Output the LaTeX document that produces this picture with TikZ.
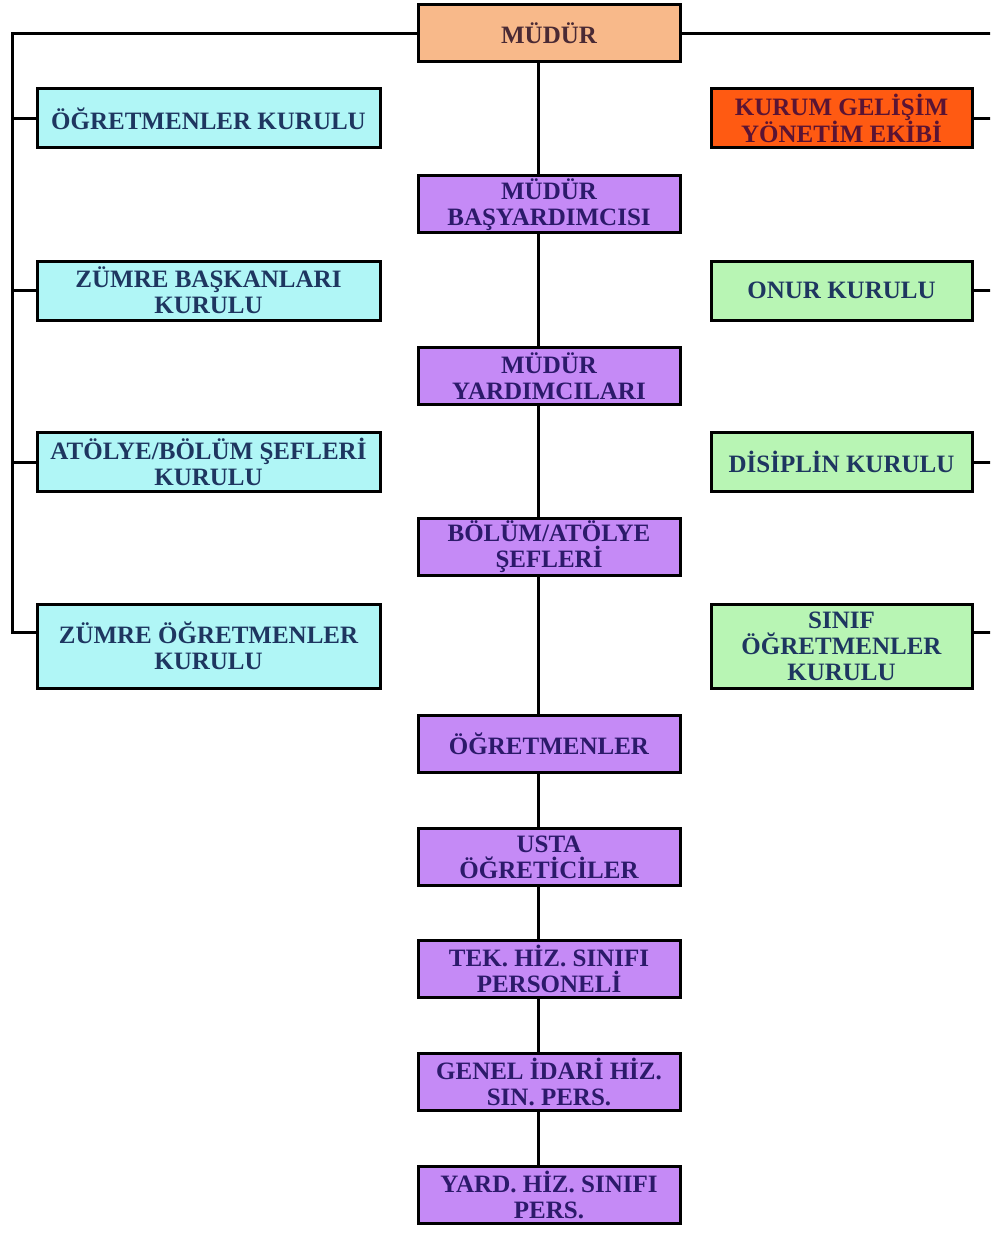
\documentclass[tikz,border=0pt]{standalone}
\usepackage{fontspec}
\setmainfont{Liberation Serif}
\definecolor{peach}{HTML}{F8B98A}
\definecolor{cyanbox}{HTML}{B0F6F6}
\definecolor{purplebox}{HTML}{C58AF6}
\definecolor{greenbox}{HTML}{B8F5B4}
\definecolor{redbox}{HTML}{FF5A12}
\definecolor{navytext}{HTML}{1E3660}
\definecolor{indigotext}{HTML}{2C1A6A}
\definecolor{browntext}{HTML}{4A2A34}
\definecolor{maroontext}{HTML}{5A1434}
\begin{document}
\begin{tikzpicture}[x=1pt,y=-1pt,
  orgbox/.style={draw=black, line width=3pt, rectangle, inner sep=0pt, align=center,
    font=\fontsize{25}{26}\selectfont\bfseries},
  topbox/.style={orgbox, fill=peach, text=browntext, minimum width=262pt, minimum height=57pt},
  midbox/.style={orgbox, fill=purplebox, text=indigotext, minimum width=262pt, minimum height=57pt},
  leftbox/.style={orgbox, fill=cyanbox, text=navytext, minimum width=343pt, minimum height=59pt},
  rightbox/.style={orgbox, fill=greenbox, text=navytext, minimum width=261pt, minimum height=59pt},
  redbx/.style={orgbox, fill=redbox, text=maroontext, minimum width=261pt, minimum height=59pt},
  link/.style={draw=black, line width=3pt}]
\useasboundingbox (0,0) rectangle (990,1233);
\fill[white] (0,0) rectangle (990,1233);
\clip (0,0) rectangle (990,1233);

% centre column
\node[topbox] (mudur) at (549,33.5) {MÜDÜR};
\node[midbox] (c1) at (549,204.5) {MÜDÜR\\BAŞYARDIMCISI};
\node[midbox] (c2) at (549,376) {MÜDÜR\\YARDIMCILARI};
\node[midbox] (c3) at (549,547) {BÖLÜM/ATÖLYE\\ŞEFLERİ};
\node[midbox] (c4) at (549,744) {ÖĞRETMENLER};
\node[midbox] (c5) at (549,857) {USTA\\ÖĞRETİCİLER};
\node[midbox] (c6) at (549,969) {TEK. HİZ. SINIFI\\PERSONELİ};
\node[midbox] (c7) at (549,1082) {GENEL İDARİ HİZ.\\SIN. PERS.};
\node[midbox] (c8) at (549,1194.5) {YARD. HİZ. SINIFI\\PERS.};

% left column
\node[leftbox] (l1) at (208.5,118.5) {ÖĞRETMENLER KURULU};
\node[leftbox] (l2) at (208.5,290.5) {ZÜMRE BAŞKANLARI\\KURULU};
\node[leftbox] (l3) at (208.5,462) {ATÖLYE/BÖLÜM ŞEFLERİ\\KURULU};
\node[leftbox, minimum height=84pt] (l4) at (208.5,646) {ZÜMRE ÖĞRETMENLER\\KURULU};

% right column
\node[redbx] (r1) at (841.5,118.5) {KURUM GELİŞİM\\YÖNETİM EKİBİ};
\node[rightbox] (r2) at (841.5,290.5) {ONUR KURULU};
\node[rightbox] (r3) at (841.5,462) {DİSİPLİN KURULU};
\node[rightbox, minimum height=84pt] (r4) at (841.5,646) {SINIF\\ÖĞRETMENLER\\KURULU};

% connector coordinates
\coordinate (cx) at (538,0);
\coordinate (ltop) at (12,33.5);
\coordinate (lbot) at (12,632);
\coordinate (rtop) at (993,33.5);
\coordinate (rbot) at (993,632);

% centre spine
\foreach \a/\b in {mudur/c1,c1/c2,c2/c3,c3/c4,c4/c5,c5/c6,c6/c7,c7/c8}
  \draw[link] (\a.south -| cx) -- (\b.north -| cx);

% left bracket
\draw[link] (mudur.west) -- (ltop) -- (lbot) -- (lbot -| l4.west);
\foreach \n in {l1,l2,l3}
  \draw[link] (\n.west) -- (\n.west -| ltop);

% right bracket
\draw[link] (mudur.east) -- (rtop) -- (rbot) -- (rbot -| r4.east);
\foreach \n in {r1,r2,r3}
  \draw[link] (\n.east) -- (\n.east -| rtop);
\end{tikzpicture}
\end{document}
